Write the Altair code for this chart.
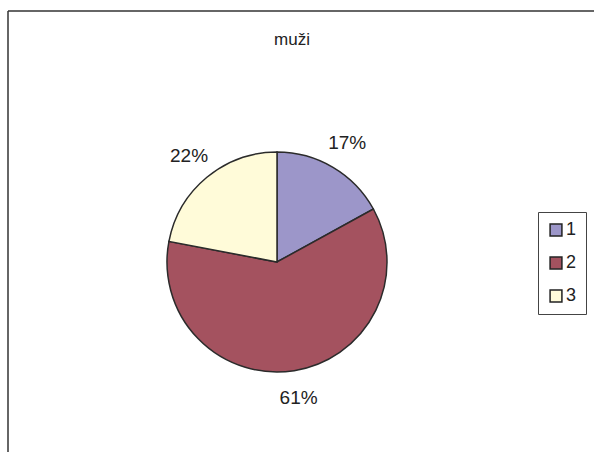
import altair as alt
import pandas as pd

categories = ["1", "2", "3"]
values = [17, 61, 22]
labels = ["17%", "61%", "22%"]
colors = ["#9C96C9", "#A4525F", "#FFFBD9"]
title_text = ["muži"]

df = pd.DataFrame({"cat": categories, "val": values, "lab": labels})
tdf = pd.DataFrame({"t": title_text})

W, H = 594, 452
CX, CY, R = 277, 262, 110

base = alt.Chart(df).encode(
    theta=alt.Theta("val:Q", stack=True),
    order=alt.Order("cat:N", sort="ascending"),
)

pie = base.mark_arc(outerRadius=R, stroke="#2b2b2b", strokeWidth=1.5).encode(
    x=alt.value(CX),
    y=alt.value(CY),
    color=alt.Color(
        "cat:N",
        scale=alt.Scale(domain=categories, range=colors),
        legend=alt.Legend(
            title=None,
            orient="none",
            legendX=538,
            legendY=212,
            symbolType="square",
            symbolSize=140,
            symbolStrokeColor="#222222",
            symbolStrokeWidth=1.5,
            labelFontSize=18,
            labelFont="Liberation Sans",
            labelColor="#222222",
            labelOffset=1,
            rowPadding=15,
            padding=9,
            strokeColor="#444444",
            fillColor="white",
        ),
    ),
)

text = base.mark_text(
    radius=138, fontSize=19, font="Liberation Sans", color="#222222"
).encode(
    x=alt.value(CX),
    y=alt.value(CY),
    text="lab:N",
)

border_left = alt.Chart(tdf).mark_rule(color="#333333", strokeWidth=1.5).encode(
    x=alt.value(8), y=alt.value(11), y2=alt.value(H)
)
border_top = alt.Chart(tdf).mark_rule(color="#333333", strokeWidth=1.5).encode(
    x=alt.value(8), x2=alt.value(W), y=alt.value(11)
)

title = alt.Chart(tdf).mark_text(
    fontSize=17, font="Liberation Sans", color="#222222", fontWeight="normal"
).encode(x=alt.value(292), y=alt.value(40), text="t:N")

chart = alt.layer(border_left, border_top, pie, text, title).properties(
    width=W, height=H, padding=0, autosize=alt.AutoSizeParams(type="none")
).configure_view(stroke=None)

chart.save("out.html", embed_options={"renderer": "svg", "actions": False})
